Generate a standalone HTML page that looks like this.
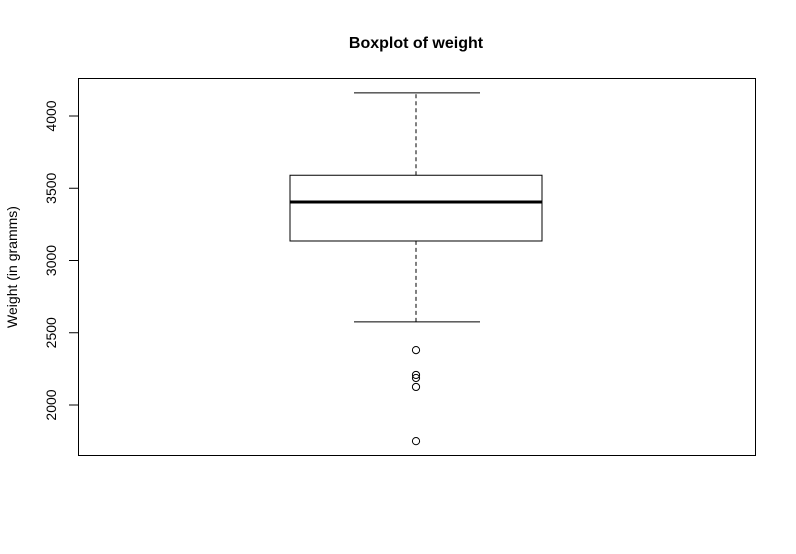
<!DOCTYPE html>
<html><head><meta charset="utf-8"><style>body{margin:0;background:#fff}svg{display:block;font-family:"Liberation Sans",Arial,sans-serif}</style></head>
<body>
<svg id="chart" width="796" height="554" xmlns="http://www.w3.org/2000/svg">
<text x="416" y="48" text-anchor="middle" font-size="16" font-weight="bold">Boxplot of weight</text>
<rect x="78.5" y="78.5" width="677" height="377" fill="none" stroke="#000" stroke-width="1"/>
<text transform="translate(17,267) rotate(-90)" text-anchor="middle" font-size="14">Weight (in gramms)</text>
<g id="axis"></g>
<g id="box"></g>
</svg>
<script>
const yTicks=[2000,2500,3000,3500,4000];
const stats=[2575,3135,3405,3590,4160]; // lower whisker, Q1, median, Q3, upper whisker
const outliers=[2380,2208,2187,2125,1750];
const NS="http://www.w3.org/2000/svg";
function y(v){return 405-(v-2000)*0.1445;}
function mk(tag,attrs,parent){const e=document.createElementNS(NS,tag);for(const k in attrs)e.setAttribute(k,attrs[k]);parent.appendChild(e);return e;}
const ax=document.getElementById('axis');
mk('line',{x1:78.5,x2:78.5,y1:y(yTicks[0]),y2:y(yTicks[yTicks.length-1]),stroke:'#000'},ax);
yTicks.forEach(t=>{
 const l=mk('line',{x1:69,x2:78.5,y1:y(t),y2:y(t),stroke:'#000'},ax);
 
 
 const tx=mk('text',{transform:`translate(56,${y(t)}) rotate(-90)`,'text-anchor':'middle','font-size':14},ax);
 tx.textContent=t;
 
 
});
const g=document.getElementById('box');
const cx=416,bl=290,br=542,cl=354,cr=480;
let e;
e=mk('line',{x1:cx,x2:cx,y1:y(stats[3]),y2:y(stats[4]),stroke:'#000','stroke-dasharray':'4,3'},g);


e=mk('line',{x1:cx,x2:cx,y1:y(stats[0]),y2:y(stats[1]),stroke:'#000','stroke-dasharray':'4,3'},g);


e=mk('line',{x1:cl,x2:cr,y1:y(stats[4]),y2:y(stats[4]),stroke:'#000'},g);


e=mk('line',{x1:cl,x2:cr,y1:y(stats[0]),y2:y(stats[0]),stroke:'#000'},g);


e=mk('rect',{x:bl,y:y(stats[3]),width:br-bl,height:y(stats[1])-y(stats[3]),fill:'none',stroke:'#000'},g);


e=mk('line',{x1:bl,x2:br,y1:y(stats[2]),y2:y(stats[2]),stroke:'#000','stroke-width':3},g);


outliers.forEach(v=>{
 const c=mk('circle',{cx:cx,cy:y(v),r:3.6,fill:'none',stroke:'#000'},g);
 
 
});
</script>
</body></html>
